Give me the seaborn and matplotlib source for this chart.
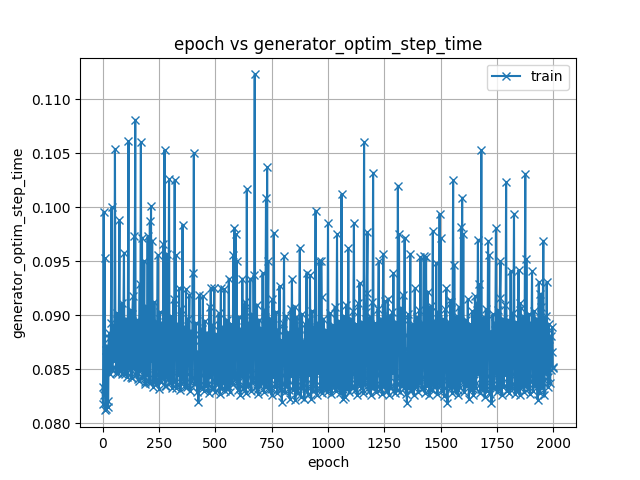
import matplotlib
matplotlib.use("Agg")
import matplotlib.pyplot as plt
import seaborn as sns
import pandas as pd

# values, every 5 epochs (0, 5, 10, ...)
epochs_a = list(range(0, 2001, 5))
step_time_a = [
    # 0 - 95
    0.0834, 0.0996, 0.0953, 0.0813, 0.0872, 0.0815, 0.0884, 0.0846, 0.1000, 0.0852,
    0.0891, 0.1054, 0.0847, 0.0902, 0.0855, 0.0988, 0.0849, 0.0911, 0.0851, 0.0958,
    # 100 - 195
    0.0846, 0.0897, 0.0843, 0.1061, 0.0850, 0.0905, 0.0842, 0.0918, 0.0973, 0.1081,
    0.0848, 0.0896, 0.0839, 0.0929, 0.1060, 0.0972, 0.0845, 0.0950, 0.0836, 0.0908,
    # 200 - 295
    0.0973, 0.0838, 0.0987, 0.1001, 0.0969, 0.0834, 0.0912, 0.0840, 0.0894, 0.0956,
    0.0832, 0.0903, 0.0838, 0.0887, 0.0966, 0.1053, 0.0835, 0.0957, 0.0841, 0.1026,
    # 300 - 395
    0.0837, 0.0899, 0.0833, 0.0915, 0.1025, 0.0956, 0.0836, 0.0892, 0.0925, 0.0831,
    0.0906, 0.0984, 0.0838, 0.0889, 0.0924, 0.0834, 0.0897, 0.0919, 0.0830, 0.0885,
    # 400 - 495
    0.0939, 0.1050, 0.0836, 0.0893, 0.0829, 0.0820, 0.0919, 0.0834, 0.0887, 0.0918,
    0.0830, 0.0895, 0.0835, 0.0884, 0.0828, 0.0908, 0.0925, 0.0832, 0.0891, 0.0925,
    # 500 - 595
    0.0829, 0.0883, 0.0836, 0.0902, 0.0827, 0.0925, 0.0833, 0.0889, 0.0924, 0.0830,
    0.0896, 0.0835, 0.0934, 0.0829, 0.0892, 0.0837, 0.0956, 0.0981, 0.0975, 0.0950,
    # 600 - 695
    0.0831, 0.0898, 0.0826, 0.0887, 0.0934, 0.0833, 0.0904, 0.0828, 0.1017, 0.0836,
    0.0893, 0.0934, 0.0830, 0.0901, 0.0937, 0.1123, 0.0834, 0.0910, 0.0827, 0.0896,
    # 700 - 795
    0.0835, 0.0888, 0.0939, 0.0829, 0.0905, 0.1009, 0.1037, 0.0950, 0.0832, 0.0897,
    0.0826, 0.0891, 0.0976, 0.0834, 0.0903, 0.0828, 0.0886, 0.0927, 0.0831, 0.0820,
    # 800 - 895
    0.0893, 0.0955, 0.0829, 0.0899, 0.0835, 0.0884, 0.0823, 0.0906, 0.0934, 0.0831,
    0.0890, 0.0822, 0.0898, 0.0828, 0.0887, 0.0962, 0.0824, 0.0901, 0.0833, 0.0823,
    # 900 - 995
    0.0892, 0.0939, 0.0827, 0.0896, 0.0937, 0.0823, 0.0904, 0.0830, 0.0889, 0.0997,
    0.0826, 0.0893, 0.0950, 0.0832, 0.0950, 0.0828, 0.0897, 0.0835, 0.0886, 0.0829,
    # 1000 - 1095
    0.0985, 0.0833, 0.0902, 0.0827, 0.0891, 0.0836, 0.0908, 0.0830, 0.0975, 0.0834,
    0.0895, 0.0828, 0.1012, 0.0823, 0.0899, 0.0824, 0.0887, 0.0832, 0.0962, 0.0829,
    # 1100 - 1195
    0.0897, 0.0835, 0.0904, 0.0985, 0.0831, 0.0892, 0.0826, 0.0911, 0.0930, 0.0833,
    0.0894, 0.0828, 0.1060, 0.0836, 0.0903, 0.0977, 0.0830, 0.0898, 0.0826, 0.0912,
    # 1200 - 1295
    0.1032, 0.0834, 0.0893, 0.0829, 0.0906, 0.0950, 0.0832, 0.0897, 0.0827, 0.0957,
    0.0835, 0.0889, 0.0830, 0.0915, 0.0826, 0.0899, 0.0833, 0.0903, 0.0939, 0.0828,
    # 1300 - 1395
    0.0894, 0.0831, 0.1020, 0.0975, 0.0829, 0.0907, 0.0835, 0.0896, 0.0972, 0.0827,
    0.0819, 0.0901, 0.0833, 0.0957, 0.0830, 0.0892, 0.0826, 0.0925, 0.0834, 0.0898,
    # 1400 - 1495
    0.0829, 0.0905, 0.0954, 0.0832, 0.0893, 0.0955, 0.0828, 0.0954, 0.0835, 0.0899,
    0.0826, 0.0909, 0.0831, 0.0978, 0.0834, 0.0895, 0.0948, 0.0827, 0.0903, 0.0994,
    # 1500 - 1595
    0.0972, 0.0830, 0.0897, 0.0825, 0.0906, 0.0925, 0.0819, 0.0894, 0.0833, 0.0912,
    0.0828, 0.1025, 0.0947, 0.0831, 0.0899, 0.0826, 0.0908, 0.0834, 0.0982, 0.1009,
    # 1600 - 1695
    0.0975, 0.0829, 0.0896, 0.0835, 0.0915, 0.0823, 0.0892, 0.0831, 0.0904, 0.0826,
    0.0889, 0.0833, 0.0911, 0.0970, 0.0929, 0.0828, 0.1053, 0.0832, 0.0898, 0.0824,
    # 1700 - 1795
    0.0906, 0.0830, 0.0969, 0.0956, 0.0827, 0.0819, 0.0901, 0.0834, 0.0893, 0.0981,
    0.0829, 0.0905, 0.0832, 0.0950, 0.0826, 0.0897, 0.0835, 0.0910, 0.1023, 0.0830,
    # 1800 - 1895
    0.0896, 0.0828, 0.0941, 0.0833, 0.0902, 0.0994, 0.0827, 0.0894, 0.0831, 0.0942,
    0.0826, 0.0907, 0.0834, 0.0899, 0.0829, 0.1031, 0.0952, 0.0832, 0.0901, 0.0827,
    # 1900 - 2000
    0.0893, 0.0941, 0.0830, 0.0904, 0.0835, 0.0897, 0.0822, 0.0931, 0.0828, 0.0908,
    0.0833, 0.0969, 0.0826, 0.0899, 0.0931, 0.0834, 0.0892, 0.0837, 0.0881, 0.0889,
    0.0852,
]

# in-between epochs (2, 7, 12, ...) from the dense band
epochs_b = list(range(2, 2000, 5))
step_time_b = [
    # 2 - 97
    0.0818, 0.0826, 0.0812, 0.0868, 0.0821, 0.0879, 0.0856, 0.0893, 0.0849, 0.0876,
    0.0858, 0.0884, 0.0862, 0.0847, 0.0895, 0.0853, 0.0871, 0.0846, 0.0889, 0.0854,
    # 102 - 197
    0.0872, 0.0848, 0.0886, 0.0852, 0.0878, 0.0843, 0.0901, 0.0851, 0.0866, 0.0845,
    0.0882, 0.0841, 0.0875, 0.0849, 0.0884, 0.0843, 0.0869, 0.0838, 0.0892, 0.0845,
    # 202 - 297
    0.0866, 0.0879, 0.0837, 0.0858, 0.0885, 0.0841, 0.0873, 0.0836, 0.0881, 0.0846,
    0.0869, 0.0839, 0.0893, 0.0842, 0.0876, 0.0835, 0.0884, 0.0848, 0.0871, 0.0839,
    # 302 - 397
    0.0878, 0.0843, 0.0869, 0.0838, 0.0886, 0.0833, 0.0874, 0.0845, 0.0881, 0.0837,
    0.0867, 0.0842, 0.0879, 0.0834, 0.0872, 0.0846, 0.0885, 0.0838, 0.0868, 0.0842,
    # 402 - 497
    0.0871, 0.0836, 0.0883, 0.0840, 0.0866, 0.0835, 0.0877, 0.0845, 0.0869, 0.0833,
    0.0882, 0.0841, 0.0873, 0.0836, 0.0880, 0.0843, 0.0864, 0.0834, 0.0876, 0.0839,
    # 502 - 597
    0.0868, 0.0842, 0.0879, 0.0834, 0.0872, 0.0840, 0.0885, 0.0837, 0.0866, 0.0843,
    0.0878, 0.0832, 0.0870, 0.0845, 0.0883, 0.0836, 0.0874, 0.0841, 0.0889, 0.0838,
    # 602 - 697
    0.0875, 0.0839, 0.0867, 0.0844, 0.0881, 0.0833, 0.0912, 0.0840, 0.0869, 0.0835,
    0.0877, 0.0846, 0.0864, 0.0838, 0.0886, 0.0842, 0.0873, 0.0831, 0.0880, 0.0845,
    # 702 - 797
    0.0862, 0.0837, 0.0878, 0.0841, 0.0870, 0.0834, 0.0884, 0.0846, 0.0867, 0.0832,
    0.0915, 0.0843, 0.0874, 0.0836, 0.0881, 0.0840, 0.0866, 0.0833, 0.0877, 0.0845,
    # 802 - 897
    0.0871, 0.0836, 0.0883, 0.0842, 0.0865, 0.0831, 0.0879, 0.0844, 0.0869, 0.0835,
    0.0908, 0.0840, 0.0874, 0.0833, 0.0882, 0.0846, 0.0863, 0.0837, 0.0876, 0.0841,
    # 902 - 997
    0.0868, 0.0834, 0.0880, 0.0845, 0.0872, 0.0836, 0.0887, 0.0840, 0.0866, 0.0832,
    0.0878, 0.0847, 0.0870, 0.0835, 0.0917, 0.0841, 0.0875, 0.0833, 0.0883, 0.0844,
    # 1002 - 1097
    0.0864, 0.0838, 0.0877, 0.0843, 0.0869, 0.0834, 0.0885, 0.0846, 0.0871, 0.0837,
    0.0882, 0.0840, 0.0866, 0.0832, 0.0879, 0.0845, 0.0910, 0.0836, 0.0873, 0.0842,
    # 1102 - 1197
    0.0870, 0.0833, 0.0881, 0.0847, 0.0867, 0.0839, 0.0884, 0.0836, 0.0874, 0.0844,
    0.0863, 0.0831, 0.0878, 0.0842, 0.0921, 0.0837, 0.0869, 0.0845, 0.0886, 0.0834,
    # 1202 - 1297
    0.0876, 0.0841, 0.0866, 0.0835, 0.0883, 0.0846, 0.0870, 0.0832, 0.0879, 0.0843,
    0.0913, 0.0837, 0.0872, 0.0840, 0.0885, 0.0834, 0.0868, 0.0847, 0.0877, 0.0838,
    # 1302 - 1397
    0.0865, 0.0844, 0.0880, 0.0836, 0.0873, 0.0841, 0.0919, 0.0833, 0.0869, 0.0845,
    0.0882, 0.0838, 0.0867, 0.0831, 0.0878, 0.0846, 0.0871, 0.0836, 0.0884, 0.0842,
    # 1402 - 1497
    0.0874, 0.0837, 0.0866, 0.0843, 0.0881, 0.0834, 0.0870, 0.0846, 0.0922, 0.0839,
    0.0877, 0.0832, 0.0868, 0.0844, 0.0886, 0.0836, 0.0873, 0.0841, 0.0865, 0.0835,
    # 1502 - 1597
    0.0879, 0.0845, 0.0869, 0.0833, 0.0884, 0.0840, 0.0872, 0.0837, 0.0914, 0.0846,
    0.0866, 0.0834, 0.0880, 0.0842, 0.0871, 0.0831, 0.0887, 0.0844, 0.0868, 0.0838,
    # 1602 - 1697
    0.0875, 0.0841, 0.0883, 0.0836, 0.0867, 0.0845, 0.0878, 0.0833, 0.0871, 0.0840,
    0.0918, 0.0837, 0.0864, 0.0846, 0.0882, 0.0832, 0.0874, 0.0843, 0.0869, 0.0836,
    # 1702 - 1797
    0.0880, 0.0844, 0.0866, 0.0835, 0.0885, 0.0841, 0.0873, 0.0833, 0.0877, 0.0847,
    0.0868, 0.0838, 0.0916, 0.0842, 0.0871, 0.0834, 0.0883, 0.0845, 0.0865, 0.0837,
    # 1802 - 1897
    0.0876, 0.0840, 0.0884, 0.0836, 0.0869, 0.0846, 0.0879, 0.0832, 0.0872, 0.0843,
    0.0911, 0.0838, 0.0866, 0.0845, 0.0881, 0.0835, 0.0874, 0.0841, 0.0887, 0.0839,
    # 1902 - 1997
    0.0867, 0.0844, 0.0882, 0.0837, 0.0875, 0.0842, 0.0870, 0.0836, 0.0920, 0.0845,
    0.0878, 0.0840, 0.0868, 0.0847, 0.0883, 0.0843, 0.0872, 0.0849, 0.0866, 0.0851,
]

df = pd.DataFrame({
    "epoch": epochs_a + epochs_b,
    "generator_optim_step_time": step_time_a + step_time_b,
}).sort_values("epoch")

fig, ax = plt.subplots(figsize=(6.4, 4.8), dpi=100)

sns.lineplot(data=df, x="epoch", y="generator_optim_step_time", ax=ax,
             color="#1f77b4", marker="x", markeredgecolor="#1f77b4",
             markeredgewidth=1.0, markersize=6, linewidth=1.5, label="train")

ax.set_title("epoch vs generator_optim_step_time")
ax.set_xlabel("epoch")
ax.set_ylabel("generator_optim_step_time")
ax.grid(True)
ax.legend(loc="upper right")

plt.savefig("out.png", dpi=100)
